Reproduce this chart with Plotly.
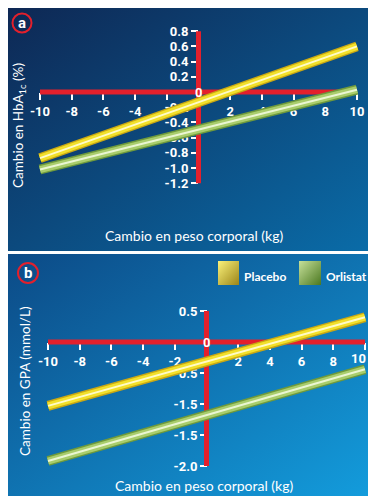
import base64
import plotly.graph_objects as go

# ---------------- data ----------------
x_ends = [-10, 10]
placebo_hba1c = [-0.87, 0.60]
orlistat_hba1c = [-1.02, 0.03]
placebo_gpa = [-1.03, 0.40]
orlistat_gpa = [-1.92, -0.44]

x_ticks = [-10, -8, -6, -4, -2, 2, 4, 6, 8, 10]
x_ticktext = ["-10", "-8", "-6", "-4", "-2", "2", "4", "6", "8", "10"]
y_ticks_a = [0.8, 0.6, 0.4, 0.2, -0.2, -0.4, -0.6, -0.8, -1.0, -1.2]
y_ticktext_a = ["0.8", "0.6", "0.4", "0.2", "-0.2", "-0.4", "-0.6", "-0.8", "-1.0", "-1.2"]
y_ticks_b = [0.5, -0.5, -1.0, -1.5, -2.0]
y_ticktext_b = ["0.5", "-0.5", "-1.5", "-1.5", "-2.0"]

# page is 376x504; the html body has an 8px margin, so the figure is 360x488
OX, OY = 8, 8
FW, FH = 360, 488
RED = "#e3202c"
TICKFONT = dict(family="Roboto, Arial, sans-serif", size=13, color="white", weight="bold")
TITLEFONT = dict(family="Lato, Roboto, Arial, sans-serif", size=14, color="white")
LEGFONT = dict(family="Lato, Roboto, Arial, sans-serif", size=12, color="white", weight="bold")


def px(x):
    return (x - OX) / FW


def py(y):
    return 1 - (y - OY) / FH


def xdom(p_lo, p_hi, r0, r1):
    u = (p_hi - p_lo) / 20.0
    return [px(p_lo + (r0 + 10) * u), px(p_lo + (r1 + 10) * u)]


def ydom(p_zero, unit, r0, r1):
    return [py(p_zero - r0 * unit), py(p_zero - r1 * unit)]


def grad(c1, c2):
    svg = (
        '<svg xmlns="http://www.w3.org/2000/svg" width="100" height="100" preserveAspectRatio="none">'
        '<defs><linearGradient id="g" x1="0" y1="0" x2="1" y2="1">'
        f'<stop offset="0" stop-color="{c1}"/><stop offset="1" stop-color="{c2}"/>'
        '</linearGradient></defs><rect width="100" height="100" fill="url(#g)"/></svg>'
    )
    return "data:image/svg+xml;base64," + base64.b64encode(svg.encode()).decode()


fig = go.Figure()


def tube(xs, ys, xa, ya, edge, main, hi):
    for c, w in ((edge, 10), (main, 7), (hi, 2)):
        fig.add_trace(go.Scatter(x=xs, y=ys, mode="lines", xaxis=xa, yaxis=ya,
                                 line=dict(color=c, width=w), hoverinfo="skip",
                                 showlegend=False))


def red_axes(xa, ya, yticks):
    fig.add_trace(go.Scatter(x=[x_ticks[0], x_ticks[-1]], y=[0, 0], mode="lines",
                             xaxis=xa, yaxis=ya, line=dict(color=RED, width=5),
                             hoverinfo="skip", showlegend=False))
    fig.add_trace(go.Scatter(x=[0, 0], y=[min(yticks), max(yticks)], mode="lines",
                             xaxis=xa, yaxis=ya, line=dict(color=RED, width=5),
                             hoverinfo="skip", showlegend=False))


YEL = ("#c9a814", "#f2e02a", "#fffbc8")
GRN = ("#6f9a3c", "#a9cd6c", "#eaf6d2")

# panel a
red_axes("x", "y", y_ticks_a)
tube(x_ends, orlistat_hba1c, "x", "y", *GRN)
tube(x_ends, placebo_hba1c, "x", "y", *YEL)
# panel b
red_axes("x2", "y2", y_ticks_b)
tube(x_ends, orlistat_gpa, "x2", "y2", *GRN)
tube(x_ends, placebo_gpa, "x2", "y2", *YEL)

common_x = dict(anchor="free", tickvals=x_ticks,
                ticks="outside", ticklen=7, tickwidth=2, tickcolor="white",
                showgrid=False, zeroline=False, showline=False, tickfont=TICKFONT,
                layer="below traces", fixedrange=True)
common_y = dict(anchor="free", ticks="outside", ticklen=7, tickwidth=2, tickcolor="white",
                showgrid=False, zeroline=False, showline=False, tickfont=TICKFONT,
                layer="below traces", fixedrange=True)

xa_range = [-10.6, 10.6]
xb_range = [-10.6, 10.15]
ya_range = [-1.4, 1.0]
yb_range = [-2.3, 0.8]

# panel b: the last label sits at the page edge, so it is placed as text inside the page
x_ticktext_b = x_ticktext[:-1] + [""]


def ann(text, x, y, font, **kw):
    d = dict(text=text, x=x, y=y, xref="paper", yref="paper", showarrow=False,
             xanchor="center", yanchor="middle", font=font)
    d.update(kw)
    return d


fig.update_layout(
    width=FW, height=FH, margin=dict(l=0, r=0, t=0, b=0),
    paper_bgcolor="white", plot_bgcolor="rgba(0,0,0,0)",
    xaxis=dict(domain=xdom(40, 357, *xa_range), range=xa_range, position=py(92),
               ticktext=x_ticktext, **common_x),
    yaxis=dict(domain=ydom(92, 76, *ya_range), range=ya_range, position=px(198),
               tickvals=y_ticks_a, ticktext=y_ticktext_a, **common_y),
    xaxis2=dict(domain=xdom(48, 365, *xb_range), range=xb_range, position=py(342),
                ticktext=x_ticktext_b, **common_x),
    yaxis2=dict(domain=ydom(342, 62, *yb_range), range=yb_range, position=px(207),
                tickvals=y_ticks_b, ticktext=y_ticktext_b, **common_y),
    images=[
        dict(source=grad("#0e2753", "#0a6ca8"), xref="paper", yref="paper",
             x=px(5), y=py(5), sizex=366 / FW, sizey=246 / FH, xanchor="left",
             yanchor="top", sizing="stretch", layer="below"),
        dict(source=grad("#0c4a86", "#139cdc"), xref="paper", yref="paper",
             x=px(5), y=py(254), sizex=366 / FW, sizey=242 / FH, xanchor="left",
             yanchor="top", sizing="stretch", layer="below"),
        dict(source=grad("#fbf27a", "#9a8418"), xref="paper", yref="paper",
             x=px(218), y=py(261), sizex=21 / FW, sizey=24 / FH, xanchor="left",
             yanchor="top", sizing="stretch", layer="above"),
        dict(source=grad("#c6e09a", "#4b7820"), xref="paper", yref="paper",
             x=px(299), y=py(261), sizex=22 / FW, sizey=24 / FH, xanchor="left",
             yanchor="top", sizing="stretch", layer="above"),
    ],
    shapes=[
        dict(type="circle", xref="paper", yref="paper", x0=px(12.5), x1=px(31.5),
             y0=py(32.5), y1=py(13.5), line=dict(color=RED, width=2)),
        dict(type="circle", xref="paper", yref="paper", x0=px(18), x1=px(38),
             y0=py(283), y1=py(263), line=dict(color=RED, width=2)),
    ],
    annotations=[
        ann("a", px(22), py(23), dict(family="Roboto, Arial", size=15, color="white", weight="bold")),
        ann("b", px(28), py(273), dict(family="Roboto, Arial", size=15, color="white", weight="bold")),
        dict(text="0", x=0, y=0, xref="x", yref="y", showarrow=False, font=TICKFONT,
             xanchor="center", yanchor="middle"),
        dict(text="0", x=0, y=0, xref="x2", yref="y2", showarrow=False, font=TICKFONT,
             xanchor="center", yanchor="middle"),
        ann("10", px(368), py(358), TICKFONT, xanchor="right"),
        ann("Cambio en peso corporal (kg)", px(194), py(235), TITLEFONT),
        ann("Cambio en peso corporal (kg)", px(204), py(485), TITLEFONT),
        ann("Cambio en HbA<sub>1c</sub> (%)", px(19), py(126),
            dict(TITLEFONT, size=13.5), textangle=-90),
        ann("Cambio en GPA (mmol/L)", px(25), py(382), dict(TITLEFONT, size=13.5), textangle=-90),
        ann("Placebo", px(242), py(276), LEGFONT, xanchor="left"),
        ann("Orlistat", px(324), py(276), LEGFONT, xanchor="left"),
    ],
)

fig.write_html("out.html")
